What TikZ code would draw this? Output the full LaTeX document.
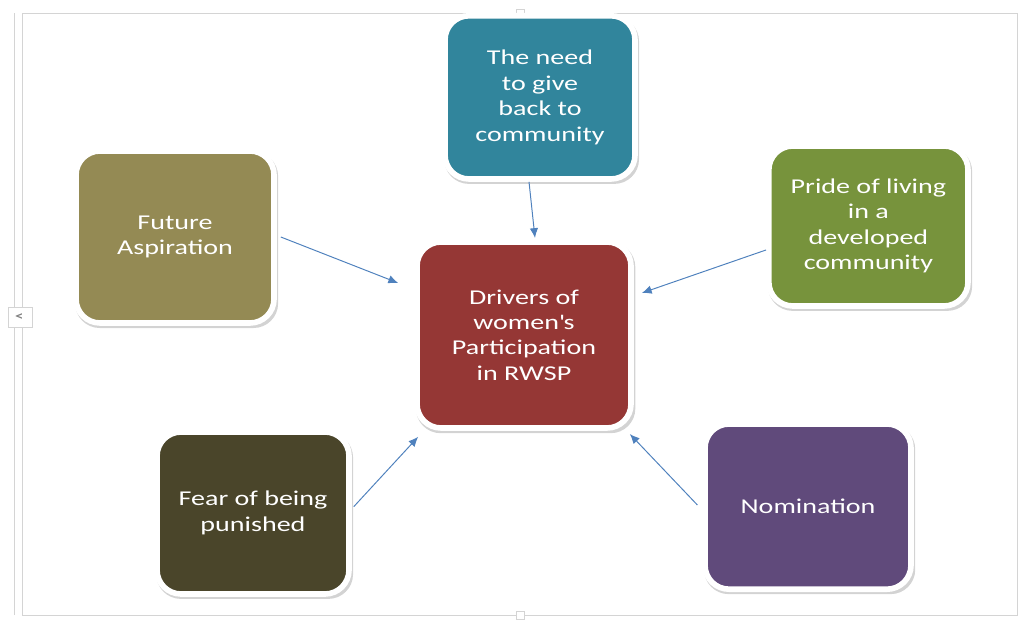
\documentclass[tikz,border=0pt]{standalone}
\usepackage{fontspec}
\setmainfont{Carlito}[FakeStretch=1.33]
\usepackage{tikz}
\usetikzlibrary{arrows.meta, shadows}
\definecolor{tealbox}{HTML}{31859C}
\definecolor{olivebox}{HTML}{948A54}
\definecolor{greenbox}{HTML}{77933C}
\definecolor{redbox}{HTML}{953735}
\definecolor{darkbox}{HTML}{4A452A}
\definecolor{purplebox}{HTML}{604A7B}
\definecolor{arrowblue}{HTML}{4F81BD}
\definecolor{framegray}{HTML}{D4D4D4}
\tikzstyle{driver} = [rectangle, rounded corners=0.6cm, draw=white, line width=4pt, text=white, align=center, font=\fontsize{15}{18.1}\selectfont, drop shadow={opacity=0.35, shadow xshift=0.04cm, shadow yshift=-0.07cm, shadow scale=1.025}]
\tikzstyle{arrow} = [draw=arrowblue, line width=0.7pt, -{Latex[length=7pt,width=6pt]}]
\tikzstyle{handle} = [draw=framegray, fill=white, line width=0.6pt]

\begin{document}
\begin{tikzpicture}
                    \useasboundingbox (0,0) rectangle (25.525,15.475);
                    \draw[framegray, line width=0.6pt] (0.55,0.1) rectangle (25.425,15.15);
                    \draw[framegray, line width=0.6pt] (0.35,0.1) -- (0.35,15.15);
                    \draw[handle] (12.9,15.05) rectangle (13.1,15.25);
                    \draw[handle] (12.9,0) rectangle (13.1,0.2);
                    \draw[handle] (0.2,7.28) rectangle (0.8,7.8);
                    \node at (0.48,7.54) [text=gray, font=\small\bfseries] {<};

                    \node (need) [driver, fill=tealbox, minimum width=4.75cm, minimum height=4.08cm] at (13.5,13.04) {The need\\to give\\back to\\community};
                    \node (aspiration) [driver, fill=olivebox, minimum width=4.95cm, minimum height=4.3cm] at (4.375,9.55) {Future\\Aspiration};
                    \node (pride) [driver, fill=greenbox, minimum width=4.98cm, minimum height=4.0cm] at (21.71,9.825) {Pride of living\\in a\\developed\\community};
                    \node (drivers) [driver, fill=redbox, minimum width=5.35cm, minimum height=4.65cm] at (13.1,7.1) {Drivers of\\women\textquotesingle s\\Participation\\in RWSP};
                    \node (fear) [driver, fill=darkbox, minimum width=4.8cm, minimum height=4.05cm] at (6.325,2.65) {Fear of being\\punished};
                    \node (nomination) [driver, fill=purplebox, minimum width=5.15cm, minimum height=4.13cm] at (20.2,2.81) {Nomination};

                    \draw[arrow] ([xshift=-0.275cm]need.south) -- ([xshift=0.275cm,yshift=0.03cm]drivers.north);
                    \draw[arrow] ([xshift=0.1cm]aspiration.east) -- ([xshift=-0.4cm,yshift=1.3cm]drivers.west);
                    \draw[arrow] ([yshift=-0.6cm]pride.west) -- ([xshift=0.2cm,yshift=1.05cm]drivers.east);
                    \draw[arrow] ([xshift=0.05cm,yshift=0.16cm]fear.east) -- ([xshift=0.1cm,yshift=-0.15cm]drivers.south west);
                    \draw[arrow] ([xshift=-0.12cm,yshift=0.04cm]nomination.west) -- ([xshift=-0.1cm,yshift=-0.08cm]drivers.south east);
                \end{tikzpicture}
\end{document}
